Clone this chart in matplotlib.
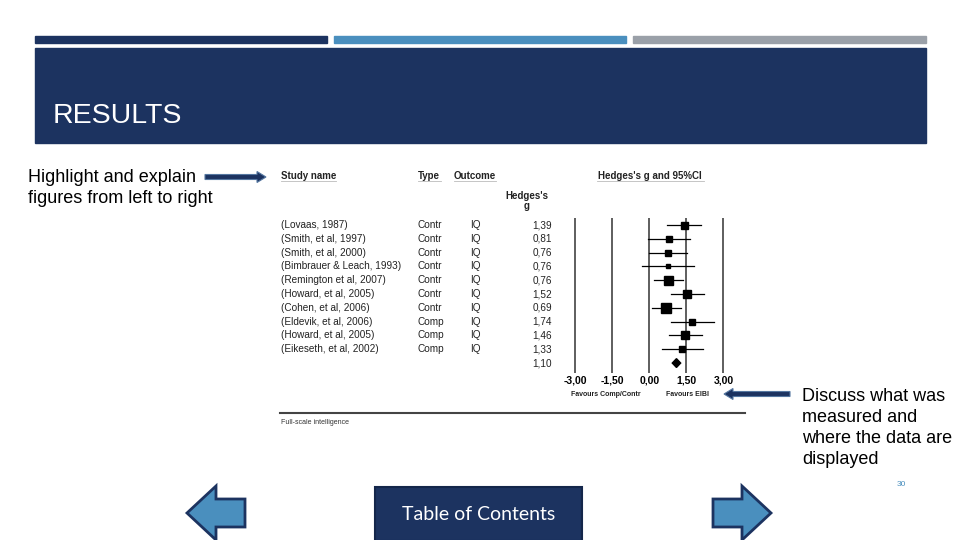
import matplotlib.pyplot as plt
import matplotlib.transforms as mtransforms
from matplotlib.patches import Rectangle, Polygon, FancyArrow

NAVY = '#1c3360'
BLUE = '#4a8fbe'
GREY = '#9aa0a8'

# forest plot data
studies = ['(Lovaas, 1987)', '(Smith, et al, 1997)', '(Smith, et al, 2000)',
           '(Bimbrauer & Leach, 1993)', '(Remington et al, 2007)', '(Howard, et al, 2005)',
           '(Cohen, et al, 2006)', '(Eldevik, et al, 2006)', '(Howard, et al, 2005)',
           '(Eikeseth, et al, 2002)']
types = ['Contr', 'Contr', 'Contr', 'Contr', 'Contr', 'Contr', 'Contr', 'Comp', 'Comp', 'Comp']
outcome = ['IQ'] * 10
g = [1.39, 0.81, 0.76, 0.76, 0.76, 1.52, 0.69, 1.74, 1.46, 1.33]
ci_lo = [0.70, -0.04, 0.00, -0.28, 0.19, 0.87, 0.10, 0.87, 0.80, 0.50]
ci_hi = [2.08, 1.65, 1.51, 1.82, 1.35, 2.20, 1.28, 2.63, 2.12, 2.18]
weight = [7.0, 5.5, 6.5, 4.5, 9.0, 7.5, 10.0, 5.5, 7.5, 6.5]  # marker size, px
summary_g = 1.10
summary_lo, summary_hi = 0.93, 1.27
ticks = [-3.0, -1.5, 0.0, 1.5, 3.0]
tick_labels = ['-3,00', '-1,50', '0,00', '1,50', '3,00']

fig = plt.figure(figsize=(9.6, 5.4), dpi=100)
plt.rcParams['font.family'] = ['Liberation Sans', 'DejaVu Sans']

# slide canvas in pixel coordinates
bg = fig.add_axes([0, 0, 1, 1])
bg.set_xlim(0, 960)
bg.set_ylim(540, 0)
bg.axis('off')

# top bars and banner
bg.add_patch(Rectangle((35, 36), 292, 7, color=NAVY))
bg.add_patch(Rectangle((334, 36), 292, 7, color=BLUE))
bg.add_patch(Rectangle((633, 36), 293, 7, color=GREY))
bg.add_patch(Rectangle((35, 48), 891, 95, color=NAVY))
bg.text(53, 116, 'RESULTS', color='white', fontsize=20.5, va='center', ha='left')

# side notes
bg.text(28, 188, 'Highlight and explain\nfigures from left to right', fontsize=13,
        va='center', ha='left', linespacing=1.3)
bg.add_patch(FancyArrow(205, 177, 52, 0, width=5, head_width=11, head_length=9,
                        length_includes_head=False, color=NAVY, ec='#5577a0', lw=0.8))
bg.text(802, 428, 'Discuss what was\nmeasured and\nwhere the data are\ndisplayed', fontsize=13,
        va='center', ha='left', linespacing=1.3)
bg.add_patch(FancyArrow(790, 394, -57, 0, width=5, head_width=11, head_length=9,
                        length_includes_head=False, color=NAVY, ec='#5577a0', lw=0.8))
bg.text(901, 484, '30', fontsize=6, color='#4a8fbe', ha='center', va='center')

# bottom navigation
left_arrow = [(187, 513), (216, 486), (216, 499), (245, 499), (245, 527), (216, 527), (216, 540)]
right_arrow = [(771, 513), (742, 486), (742, 499), (713, 499), (713, 527), (742, 527), (742, 540)]
bg.add_patch(Polygon(left_arrow, closed=True, fc=BLUE, ec=NAVY, lw=2))
bg.add_patch(Polygon(right_arrow, closed=True, fc=BLUE, ec=NAVY, lw=2))
bg.add_patch(Rectangle((375, 487), 207, 54, fc=NAVY, ec='#14264a', lw=1.5))
bg.text(479, 514, 'Table of Contents', color='white', fontsize=14, ha='center', va='center',
        family=['Lato', 'DejaVu Sans'])

# forest plot axes: x in Hedges's g, y in row index
ax = fig.add_axes([562.85 / 960, (540 - 373) / 540, 172.9 / 960, 155 / 540])
ax.set_xlim(-3.5, 3.5)
ax.set_ylim(10.72, -0.51)
for s in ax.spines.values():
    s.set_visible(False)
ax.set_yticks([])
ax.set_xticks(ticks)
ax.set_xticklabels(tick_labels, fontsize=7.5, fontweight='bold')
ax.tick_params(axis='x', length=0, pad=2)
for t in ticks:
    ax.axvline(t, color='#333333', lw=1.1)

rows = list(range(len(studies)))
for i in rows:
    ax.plot([ci_lo[i], ci_hi[i]], [i, i], color='black', lw=0.9)
    ax.plot(g[i], i, marker='s', color='black', markersize=weight[i] * 0.72, ls='none')
ys = len(studies)
ax.fill([summary_lo, summary_g, summary_hi, summary_g], [ys, ys - 0.32, ys, ys + 0.32], color='black')

# table text: x in slide pixels, y in forest rows
tr = mtransforms.blended_transform_factory(bg.transData, ax.transData)
fs = 7.2
for i in rows:
    ax.text(281, i, studies[i], transform=tr, fontsize=fs, va='center', ha='left', color='#222222')
    ax.text(418, i, types[i], transform=tr, fontsize=fs, va='center', ha='left', color='#222222')
    ax.text(475, i, outcome[i], transform=tr, fontsize=fs, va='center', ha='center', color='#222222')
    ax.text(552, i, f'{g[i]:.2f}'.replace('.', ','), transform=tr, fontsize=fs, va='center',
            ha='right', color='#222222')
ax.text(552, ys, f'{summary_g:.2f}'.replace('.', ','), transform=tr, fontsize=fs, va='center',
        ha='right', color='#222222')

# headers
hdr = dict(fontsize=7, fontweight='bold', va='center', color='#222222')
bg.text(281, 176, 'Study name', ha='left', **hdr)
bg.text(418, 176, 'Type', ha='left', **hdr)
bg.text(454, 176, 'Outcome', ha='left', **hdr)
bg.text(650, 176, "Hedges's g and 95%CI", ha='center', **hdr)
bg.text(527, 201, "Hedges's\ng", ha='center', linespacing=1.1, **hdr)
for x0, x1 in [(281, 336), (418, 441), (454, 496), (597, 704)]:
    bg.plot([x0, x1], [181, 181], color='#bbbbbb', lw=0.6)

bg.text(606, 395, 'Favours Comp/Contr', fontsize=5, fontweight='bold', ha='center', va='center',
        color='#222222')
bg.text(687, 395, 'Favours EIBI', fontsize=5, fontweight='bold', ha='center', va='center',
        color='#222222')

bg.plot([280, 745], [413, 413], color='#444444', lw=1.5)
bg.text(281, 423, 'Full-scale intelligence', fontsize=5, ha='left', va='center', color='#333333')

fig.savefig('out.png', dpi=100)
